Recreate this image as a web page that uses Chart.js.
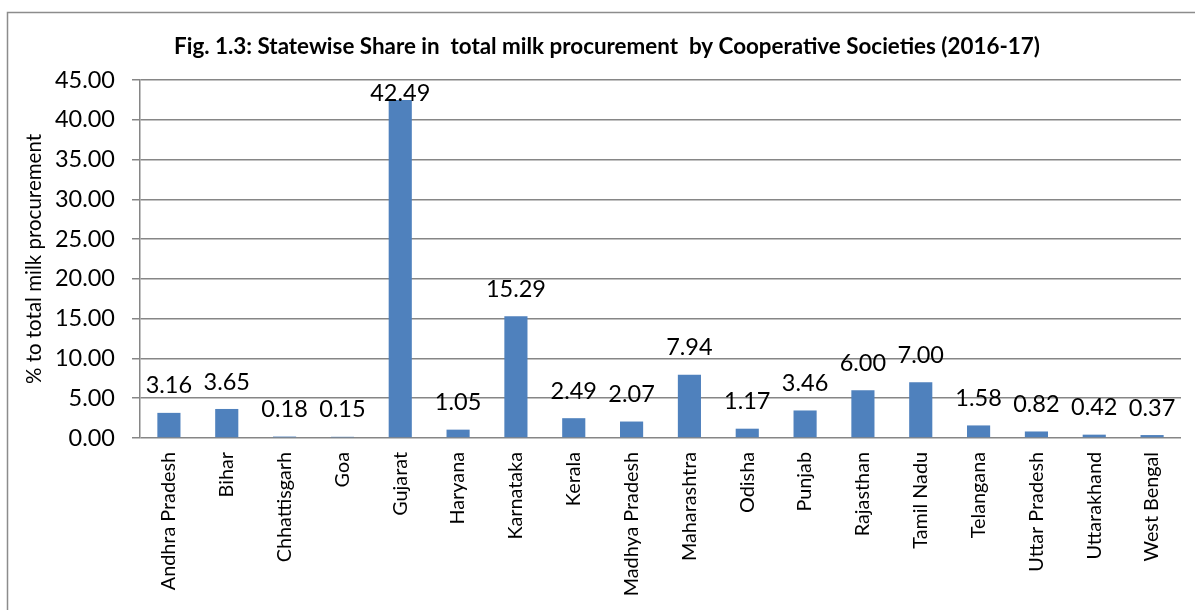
<!DOCTYPE html>
<html>
<head>
<meta charset="utf-8">
<script src="https://cdn.jsdelivr.net/npm/chart.js@4/dist/chart.umd.min.js"></script>
<style>
  body { margin: 0; background: #fff; }
  #wrap { width: 1195px; height: 610px; }
</style>
</head>
<body>
<div id="wrap"><canvas id="milkchart" width="1195" height="610"></canvas></div>
<script>
// values
const states = ['Andhra Pradesh', 'Bihar', 'Chhattisgarh', 'Goa', 'Gujarat', 'Haryana', 'Karnataka',
    'Kerala', 'Madhya Pradesh', 'Maharashtra', 'Odisha', 'Punjab', 'Rajasthan', 'Tamil Nadu',
    'Telangana', 'Uttar Pradesh', 'Uttarakhand', 'West Bengal'];
const share = [3.16, 3.65, 0.18, 0.15, 42.49, 1.05, 15.29, 2.49, 2.07, 7.94, 1.17, 3.46, 6.00, 7.00,
    1.58, 0.82, 0.42, 0.37];
const yMin = 0, yMax = 45, yStep = 5;
const titleText = 'Fig. 1.3: Statewise Share in  total milk procurement  by Cooperative Societies (2016-17)';
const yTitle = '% to total milk procurement';

const fontFam = 'Lato, "Open Sans", sans-serif';
const gridCol = '#868686';

// frame + title + value labels, the way the spreadsheet had them
const decorPlugin = {
    id: 'decor',
    beforeDraw(chart) {
        const ctx = chart.ctx;
        ctx.save();
        ctx.strokeStyle = '#8c8c8c';
        ctx.lineWidth = 1.5;
        ctx.strokeRect(7.5, 12.5, 1250, 700);
        ctx.restore();
    },
    afterDatasetsDraw(chart) {
        const ctx = chart.ctx;
        const area = chart.chartArea;
        ctx.save();
        ctx.fillStyle = '#000';
        ctx.font = 'bold 22.4px ' + fontFam;
        ctx.textAlign = 'center';
        ctx.textBaseline = 'middle';
        ctx.fillText(titleText, 607, 47);

        ctx.font = '23.5px ' + fontFam;
        const meta = chart.getDatasetMeta(0);
        meta.data.forEach((bar, i) => {
            let y = bar.y - 27;
            if (y < area.top + 13) y = area.top + 13;
            ctx.fillText(share[i].toFixed(2), bar.x, y);
        });
        ctx.restore();
    }
};

new Chart(document.getElementById('milkchart').getContext('2d'), {
    type: 'bar',
    data: {
        labels: states,
        datasets: [{
            data: share,
            backgroundColor: '#4f81bd',
            borderWidth: 0,
            categoryPercentage: 1.0,
            barPercentage: 0.4
        }]
    },
    options: {
        responsive: false,
        animation: false,
        devicePixelRatio: 1,
        layout: { padding: { top: 80, right: 14, bottom: 0, left: 0 } },
        plugins: {
            legend: { display: false },
            tooltip: { enabled: false },
            title: { display: false }
        },
        scales: {
            x: {
                grid: { display: false, drawTicks: false },
                border: { display: false },
                ticks: {
                    color: '#000',
                    font: { family: fontFam, size: 19.8 },
                    minRotation: 90,
                    maxRotation: 90,
                    autoSkip: false,
                    padding: 14
                },
                afterFit(scale) { scale.height = 172; }
            },
            y: {
                min: yMin,
                max: yMax,
                grid: { color: gridCol, lineWidth: 1.5, tickLength: 8 },
                border: { color: gridCol, width: 1.5 },
                ticks: {
                    stepSize: yStep,
                    color: '#000',
                    font: { family: fontFam, size: 23.5 },
                    padding: 17,
                    callback: (v) => Number(v).toFixed(2)
                },
                title: {
                    display: true,
                    text: yTitle,
                    color: '#000',
                    font: { family: fontFam, size: 20.5 },
                    padding: { top: 22, bottom: 0 }
                },
                afterFit(scale) { scale.width = 140; }
            }
        }
    },
    plugins: [decorPlugin]
});
</script>
</body>
</html>
